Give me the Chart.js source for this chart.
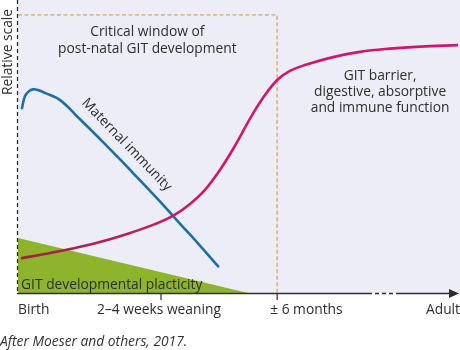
<!DOCTYPE html>
<html><head><meta charset="utf-8">
<script src="https://cdn.jsdelivr.net/npm/chart.js@4"></script>
<style>html,body{margin:0;padding:0;background:#fff}#wrap{width:460px;height:350px;position:relative}</style>
</head><body><div id="wrap"><canvas id="c"></canvas></div>
<script>
// ---- data (relative units: x = time position 0..100, y = relative scale 0..100) ----
const stageLabels = ['Birth', '2–4 weeks weaning', '± 6 months', 'Adult'];
const stagePositions = [0, 32.5, 58.9, 100];

const maternalX = [0.9, 1.6, 2.5, 3.4, 4.5, 6.1, 9.5, 14.1, 18.6, 23.2, 27.7, 32.3, 36.8, 41.4, 45.5];
const maternalY = [63.1, 67.2, 68.9, 69.5, 69.3, 68.3, 65.9, 59.3, 52.6, 45.6, 38.5, 31.2, 23.7, 16.1, 9.1];

const barrierX = [0.9, 6.1, 11.8, 18.6, 25.5, 31.1, 35.5, 39.1, 42.5, 45.9, 49.3, 52.7, 55.7, 58.9, 61.8, 65.2, 71.6, 77.7, 84.5, 91.4, 100];
const barrierY = [11.9, 13.3, 15.0, 17.4, 20.5, 23.5, 26.6, 30.4, 35.2, 42.0, 50.2, 59.4, 66.6, 72.7, 75.8, 77.8, 80.5, 82.3, 83.4, 84.1, 84.6];

const plasticityX = [0, 52.3];
const plasticityY = [18.8, 0];

const windowX = [0, 58.9, 58.9];
const windowY = [94.9, 94.9, 0];

const toPts = (xs, ys) => xs.map((x, i) => ({ x, y: ys[i] }));

// ---- text annotations (placed in data units through the scales) ----
const notes = [
  { text: 'Critical window of', x: 29.4, y: 89.1, align: 'center' },
  { text: 'post-natal GIT development', x: 29.4, y: 83.3, align: 'center' },
  { text: 'GIT barrier,', x: 82.3, y: 74.1, align: 'center' },
  { text: 'digestive, absorptive', x: 82.3, y: 68.6, align: 'center' },
  { text: 'and immune function', x: 82.3, y: 63.1, align: 'center' },
  { text: 'Maternal immunity', x: 24.7, y: 50.6, align: 'center', rot: 46 },
  { text: 'GIT developmental placticity', x: 0.7, y: 2.7, align: 'left' }
];
const yTitle = 'Relative scale';
const stageAlign = ['left', 'center', 'left', 'right'];
const stageShift = [0, -2, -7, 2];
const caption = 'After Moeser and others, 2017.';

const FONT = '"Open Sans", "Noto Sans", sans-serif';
const FS = 13.8;
const TXT = '#2e2e2e';

const bgPlugin = {
  id: 'bg',
  beforeDraw(chart) {
    const { ctx, chartArea: a, width } = chart;
    ctx.save();
    ctx.fillStyle = '#ecedf6';
    ctx.fillRect(a.left, 0, width - a.left, a.bottom);
    ctx.restore();
  }
};

const decorPlugin = {
  id: 'decor',
  afterDraw(chart) {
    const { ctx, chartArea: a } = chart;
    const xs = chart.scales.x, ys = chart.scales.y;
    ctx.save();
    // y axis (dashed)
    const xA = a.left - 0.5;
    ctx.strokeStyle = '#2e2e2e';
    ctx.lineWidth = 1.3;
    ctx.setLineDash([4, 3]);
    ctx.beginPath(); ctx.moveTo(xA, ys.getPixelForValue(100)); ctx.lineTo(xA, a.bottom); ctx.stroke();
    // x axis with break and arrow
    const yA = a.bottom + 0.5;
    ctx.lineWidth = 1.5;
    ctx.setLineDash([]);
    ctx.beginPath(); ctx.moveTo(a.left - 1, yA); ctx.lineTo(368, yA); ctx.stroke();
    ctx.setLineDash([4, 3]);
    ctx.beginPath(); ctx.moveTo(368, yA); ctx.lineTo(396, yA); ctx.stroke();
    ctx.setLineDash([]);
    ctx.beginPath(); ctx.moveTo(396, yA); ctx.lineTo(451, yA); ctx.stroke();
    ctx.fillStyle = '#2e2e2e';
    ctx.beginPath(); ctx.moveTo(459, yA); ctx.lineTo(449, yA - 4.5); ctx.lineTo(449, yA + 4.5); ctx.closePath(); ctx.fill();
    // tick marks and labels
    ctx.lineWidth = 1.2;
    ctx.font = FS + 'px ' + FONT;
    ctx.textBaseline = 'middle';
    ctx.fillStyle = TXT;
    stagePositions.forEach((v, i) => {
      const px = xs.getPixelForValue(v);
      if (i === 1 || i === 2) {
        ctx.beginPath(); ctx.moveTo(px, a.bottom); ctx.lineTo(px, a.bottom + 7); ctx.stroke();
      }
      ctx.textAlign = stageAlign[i];
      ctx.fillText(stageLabels[i], px + stageShift[i], a.bottom + 17);
    });
    // y title
    ctx.save();
    ctx.translate(8, 52);
    ctx.rotate(-Math.PI / 2);
    ctx.textAlign = 'center';
    ctx.fillText(yTitle, 0, 0);
    ctx.restore();
    // notes
    notes.forEach(n => {
      const px = xs.getPixelForValue(n.x), py = ys.getPixelForValue(n.y);
      ctx.save();
      ctx.translate(px, py);
      if (n.rot) ctx.rotate(n.rot * Math.PI / 180);
      ctx.textAlign = n.align;
      ctx.fillStyle = TXT;
      ctx.font = FS + 'px ' + FONT;
      ctx.fillText(n.text, 0, 0);
      ctx.restore();
    });
    // caption
    ctx.font = 'italic ' + FS + 'px ' + FONT;
    ctx.textAlign = 'left';
    ctx.fillStyle = '#333';
    ctx.fillText(caption, 0, a.bottom + 49);
    ctx.restore();
  }
};

function barrierGradient(c) {
  const { chart } = c;
  const a = chart.chartArea;
  if (!a) return '#cc1a6c';
  const g = chart.ctx.createLinearGradient(a.left, 0, a.right, 0);
  g.addColorStop(0, '#9c2340');
  g.addColorStop(0.3, '#c41c64');
  g.addColorStop(0.55, '#d0176e');
  g.addColorStop(1, '#d0176e');
  return g;
}

new Chart(document.getElementById('c'), {
  type: 'line',
  data: {
    datasets: [
      { label: 'Critical window', data: toPts(windowX, windowY), borderColor: '#e2a456', borderWidth: 1.3,
        borderDash: [4, 2.5], pointRadius: 0, fill: false, tension: 0, order: 3 },
      { label: 'GIT developmental plasticity', data: toPts(plasticityX, plasticityY), borderColor: 'rgba(0,0,0,0)',
        borderWidth: 0, backgroundColor: '#8db42c', pointRadius: 0, fill: 'origin', tension: 0, order: 4 },
      { label: 'Maternal immunity', data: toPts(maternalX, maternalY), borderColor: '#1c6ea5', borderWidth: 2.6,
        pointRadius: 0, fill: false, tension: 0.4, borderCapStyle: 'round', order: 2 },
      { label: 'GIT barrier, digestive, absorptive and immune function', data: toPts(barrierX, barrierY),
        borderColor: barrierGradient, borderWidth: 2.6, pointRadius: 0, fill: false,
        tension: 0.4, borderCapStyle: 'round', order: 1 }
    ]
  },
  options: {
    responsive: true, maintainAspectRatio: false, animation: false, devicePixelRatio: 1,
    layout: { padding: { left: 0, right: 2, top: 0, bottom: 57 } },
    plugins: { legend: { display: false }, tooltip: { enabled: false } },
    scales: {
      x: { type: 'linear', min: 0, max: 100, display: false },
      y: {
        type: 'linear', min: 0, max: 100,
        grid: { display: false },
        ticks: { display: false },
        border: { display: false },
        afterFit(s) { s.width = 18; }
      }
    }
  },
  plugins: [bgPlugin, decorPlugin]
});
</script></body></html>
